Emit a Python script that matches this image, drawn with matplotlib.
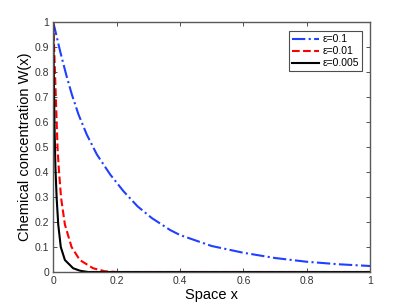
import numpy as np
import matplotlib
matplotlib.use("Agg")
import matplotlib.pyplot as plt

plt.rcParams['font.family'] = ['Liberation Sans', 'DejaVu Sans']

# values
x_eps1 = [0, 0.005, 0.022, 0.041, 0.059, 0.08, 0.106, 0.138, 0.18, 0.222, 0.266, 0.311, 0.369, 0.4,
          0.5, 0.6, 0.7, 0.8, 0.9, 1.0]
w_eps1 = [1.0, 0.975, 0.883, 0.79, 0.71, 0.63, 0.55, 0.47, 0.39, 0.323, 0.263, 0.216, 0.168, 0.148,
          0.104, 0.077, 0.056, 0.041, 0.031, 0.024]

x_eps2 = [0, 0.003, 0.011, 0.014, 0.018, 0.025, 0.037, 0.058, 0.084, 0.126, 0.163, 0.2, 0.3, 1.0]
w_eps2 = [1.0, 0.9, 0.6, 0.49, 0.41, 0.296, 0.19, 0.10, 0.048, 0.015, 0.003, 0.0, 0.0, 0.0]

x_eps3 = [0, 0.002, 0.004, 0.007, 0.011, 0.016, 0.024, 0.037, 0.063, 0.085, 0.11, 0.2, 1.0]
w_eps3 = [1.0, 0.8, 0.6, 0.42, 0.296, 0.19, 0.10, 0.048, 0.015, 0.005, 0.0, 0.0, 0.0]

labels = ["ε=0.1", "ε=0.01", "ε=0.005"]
xticks = [0, 0.2, 0.4, 0.6, 0.8, 1]
xticklabels = ["0", "0.2", "0.4", "0.6", "0.8", "1"]
yticks = [0, 0.1, 0.2, 0.3, 0.4, 0.5, 0.6, 0.7, 0.8, 0.9, 1]
yticklabels = ["0", "0.1", "0.2", "0.3", "0.4", "0.5", "0.6", "0.7", "0.8", "0.9", "1"]

fig = plt.figure(figsize=(4.09, 3.07), dpi=100)
ax = fig.add_axes([0.13, 0.114, 0.775, 0.814])

ax.plot(x_eps1, w_eps1, color="#2040ff", ls="-.", lw=1.5, label=labels[0])
ax.plot(x_eps2, w_eps2, color="#ff0000", ls="--", lw=1.5, label=labels[1])
ax.plot(x_eps3, w_eps3, color="k", ls="-", lw=1.5, label=labels[2])

ax.set_xlim(0, 1)
ax.set_ylim(0, 1)
ax.set_xticks(xticks)
ax.set_xticklabels(xticklabels)
ax.set_yticks(yticks)
ax.set_yticklabels(yticklabels)
ax.tick_params(direction="in", length=3, width=0.6, labelsize=7.5, top=True, right=True,
               colors="0.2", pad=3)
for s in ax.spines.values():
    s.set_color("0.35")
    s.set_linewidth(1.0)

ax.set_xlabel("Space x", fontsize=10.5, labelpad=1)
ax.set_ylabel("Chemical concentration W(x)", fontsize=10.5, labelpad=2)

leg = ax.legend(loc="upper right", fontsize=7.5, fancybox=False, framealpha=1,
                edgecolor="0.3", handlelength=2.6, borderpad=0.3, labelspacing=0.2,
                handletextpad=0.3, bbox_to_anchor=(0.99, 0.985))
leg.get_frame().set_linewidth(0.8)

fig.savefig("out.png", dpi=100)
